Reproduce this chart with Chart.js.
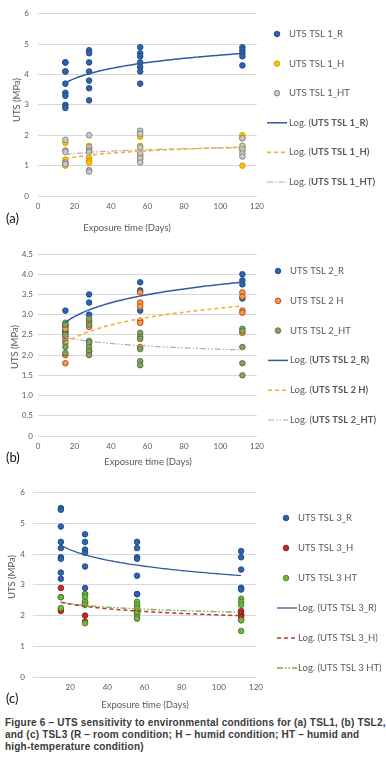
<!DOCTYPE html>
<html><head><meta charset="utf-8">
<script src="https://cdn.jsdelivr.net/npm/chart.js@4.4.0/dist/chart.umd.min.js"></script>
<style>
html,body{margin:0;padding:0;background:#fff}
body{width:386px;height:766px;position:relative;overflow:hidden}
.wrap{position:absolute;left:0;width:386px}
.cap{position:absolute;left:5px;top:717px;width:381px;font:bold 10px "Liberation Sans",Arial,sans-serif;color:#3a3a3a;line-height:12px;letter-spacing:0.2px;white-space:nowrap}
</style></head><body>
<div class="wrap" style="top:0px;height:236px"><canvas id="ca" width="386" height="236"></canvas></div>
<div class="wrap" style="top:240px;height:232px"><canvas id="cb" width="386" height="232"></canvas></div>
<div class="wrap" style="top:480px;height:232px"><canvas id="cc" width="386" height="232"></canvas></div>
<div class="cap">Figure 6 – UTS sensitivity to environmental conditions for (a) TSL1, (b) TSL2,<br>and (c) TSL3 (R – room condition; H – humid condition; HT – humid and<br>high-temperature condition)</div>
<script>
// ---------- DATA ----------
const DAYS = [15, 28, 56, 112];
const X_TICKS = [0, 20, 40, 60, 80, 100, 120];

// Panel (a) TSL1
const A_NAMES = ['UTS TSL 1_R', 'UTS TSL 1_H', 'UTS TSL 1_HT'];
const A_R  = [[4.4,4.4,4.1,4.1,3.7,3.4,3.3,3.0,2.9],[4.8,4.7,4.4,4.1,3.8,3.55,3.15],[4.9,4.7,4.6,4.4,4.25,4.1,3.7],[4.9,4.8,4.7,4.6,4.3]];
const A_H  = [[1.75,1.2,1.1,1.05,1.0],[1.65,1.55,1.25,1.15,1.1],[1.95,1.65,1.35,1.3,1.2],[2.0,1.9,1.6,1.5,1.0]];
const A_HT = [[1.85,1.5,1.45,1.1,1.05],[2.0,1.6,1.5,1.45,0.85,0.8],[2.15,2.05,1.6,1.4,1.25,1.1],[1.9,1.65,1.55,1.4,1.3]];
const A_YTICKS = [0,1,2,3,4,5,6];

// Panel (b) TSL2
const B_NAMES = ['UTS TSL 2_R', 'UTS TSL 2 H', 'UTS TSL 2_HT'];
const B_R  = [[3.1,2.75,2.7,2.6,2.55],[3.5,3.3,3.0],[3.8,3.6,3.1],[4.0,3.85,3.75,3.4]];
const B_H  = [[2.65,2.45,2.35,2.0,1.8],[2.85,2.8,2.7,2.1],[3.55,3.3,3.2,2.85,2.8,2.2],[3.55,3.45,3.1,3.05,2.55]];
const B_HT = [[2.8,2.75,2.5,2.3,2.2,2.05],[2.9,2.75,2.35,2.3,2.2,2.1,2.0],[2.55,2.45,2.4,2.15,1.85,1.75],[2.65,2.6,2.2,1.8,1.5]];
const B_YTICKS = [0,0.5,1,1.5,2,2.5,3,3.5,4,4.5];

// Panel (c) TSL3
const C_NAMES = ['UTS TSL 3_R', 'UTS TSL 3_H', 'UTS TSL 3 HT'];
const C_R  = [[5.5,5.45,4.9,4.4,4.2,3.9,3.85,3.4,3.2],[4.65,4.4,4.15,4.05,3.6,2.9],[4.4,4.2,3.9,3.85,3.3,2.7,2.7],[4.1,3.9,3.5,2.9,2.9,2.85]];
const C_H  = [[2.9,2.6,2.2,2.15],[2.7,2.45,2.4,2.0,1.8],[2.3,2.2,2.1,2.05],[2.15,2.05,2.0,1.95,1.85]];
const C_HT = [[2.6,2.25],[2.7,2.6,2.45,2.35,1.75],[2.45,2.35,2.25,2.1,1.95,1.9],[2.55,2.45,2.35,1.85,1.5]];
const C_YTICKS = [0,1,2,3,4,5,6];

// ---------- HELPERS ----------
const FONT = 'Lato, "Open Sans", sans-serif';
function pts(groups){ const o=[]; groups.forEach((g,i)=>g.forEach(v=>o.push({x:DAYS[i],y:v}))); return o; }
function logFit(groups){
  const p = pts(groups); const n=p.length;
  let sx=0,sy=0,sxx=0,sxy=0;
  p.forEach(q=>{const l=Math.log(q.x); sx+=l; sy+=q.y; sxx+=l*l; sxy+=l*q.y;});
  const b=(n*sxy-sx*sy)/(n*sxx-sx*sx); const a=(sy-b*sx)/n;
  const out=[]; for(let x=DAYS[0]; x<=DAYS[DAYS.length-1]; x+=1) out.push({x, y:a+b*Math.log(x)});
  return out;
}
function scatterDS(groups, fill, stroke, order){
  return {type:'scatter', data:pts(groups), backgroundColor:fill, borderColor:stroke, borderWidth:0.9, pointRadius:2.8, pointHoverRadius:2.8, order};
}
function trendDS(groups, color, dash, width){
  return {type:'scatter', data:logFit(groups), showLine:true, borderColor:color, borderWidth:width, borderDash:dash, pointRadius:0, fill:false, tension:0, order:0};
}

const decoPlugin = {
  id:'deco',
  afterDraw(chart, args, o){
    const ctx = chart.ctx; ctx.save();
    ctx.fillStyle='#595959'; ctx.font='9.5px '+FONT; ctx.textAlign='center'; ctx.textBaseline='middle';
    ctx.save(); ctx.translate(o.yt[0], o.yt[1]); ctx.rotate(-Math.PI/2); ctx.fillText('UTS (MPa)',0,0); ctx.restore();
    ctx.fillText('Exposure time (Days)', o.xt[0], o.xt[1]);
    ctx.fillStyle='#111'; ctx.font='13px '+FONT; ctx.textAlign='left';
    ctx.fillText(o.panel, o.pl[0], o.pl[1]);
    o.items.forEach((it,i)=>{
      const y = o.ly + i*o.ls;
      if(it.kind==='pt'){
        ctx.beginPath(); ctx.arc(o.mx, y, 2.8, 0, Math.PI*2);
        ctx.fillStyle=it.fill; ctx.fill(); ctx.lineWidth=0.9; ctx.strokeStyle=it.stroke; ctx.stroke();
      } else {
        ctx.beginPath(); ctx.setLineDash(it.dash); ctx.lineWidth=it.w; ctx.strokeStyle=it.stroke;
        ctx.moveTo(o.lx0, y); ctx.lineTo(o.lx1, y); ctx.stroke(); ctx.setLineDash([]);
      }
      ctx.textAlign='left'; ctx.textBaseline='middle'; ctx.fillStyle='#595959';
      let x = o.tx;
      it.parts.forEach(p=>{ ctx.font=(p.b&&o.bold?'bold ':'')+'9.5px '+FONT; ctx.fillText(p.t,x,y); x+=ctx.measureText(p.t).width; });
    });
    ctx.restore();
  }
};

function makeChart(id, cfg){
  const [R,H,HT] = cfg.groups;
  const [nR,nH,nHT] = cfg.names;
  const st = cfg.styles;
  const datasets = [
    trendDS(R, st.tR.c, st.tR.d, st.tR.w),
    trendDS(H, st.tH.c, st.tH.d, st.tH.w),
    trendDS(HT, st.tHT.c, st.tHT.d, st.tHT.w),
    scatterDS(HT, st.HT.f, st.HT.s, 2),
    scatterDS(H, st.H.f, st.H.s, 3),
    scatterDS(R, st.R.f, st.R.s, 4)
  ];
  const items = [
    {kind:'pt', fill:st.R.f, stroke:st.R.s, parts:[{t:nR}]},
    {kind:'pt', fill:st.H.f, stroke:st.H.s, parts:[{t:nH}]},
    {kind:'pt', fill:st.HT.f, stroke:st.HT.s, parts:[{t:nHT}]},
    {kind:'ln', stroke:st.tR.c, dash:st.tR.d, w:st.tR.w, parts:[{t:'Log. ('},{t:nR+')',b:true}]},
    {kind:'ln', stroke:st.tH.c, dash:st.tH.d, w:st.tH.w, parts:[{t:'Log. ('},{t:nH+')',b:true}]},
    {kind:'ln', stroke:st.tHT.c, dash:st.tHT.d, w:st.tHT.w, parts:[{t:'Log. ('},{t:nHT+')',b:true}]}
  ];
  const L = cfg.layout;
  return new Chart(document.getElementById(id), {
    data:{datasets},
    plugins:[decoPlugin],
    options:{
      responsive:false, animation:false, devicePixelRatio:1,
      layout:{padding:{left:0, right:L.right, top:L.top, bottom:0}},
      plugins:{legend:{display:false}, tooltip:{enabled:false},
        deco:Object.assign({items}, L.deco)},
      scales:{
        x:{type:'linear', min:0, max:120, afterBuildTicks:s=>{s.ticks=X_TICKS.map(v=>({value:v}));},
           grid:{display:false, drawTicks:false}, border:{display:false},
           ticks:{padding:L.xpad, color:'#595959', font:{size:8, family:FONT}, maxRotation:0, autoSkip:false,
             callback:(v)=> (cfg.hideZero && v===0) ? '' : String(v)},
           afterFit:s=>{s.height=L.xh;}},
        y:{type:'linear', min:0, max:cfg.yticks[cfg.yticks.length-1],
           afterBuildTicks:s=>{s.ticks=cfg.yticks.map(v=>({value:v}));},
           grid:{color:'#D9D9D9', lineWidth:1, drawTicks:false}, border:{display:false},
           ticks:{padding:L.ypad, color:'#595959', font:{size:8, family:FONT}},
           afterFit:s=>{s.width=L.yw;}}
      }
    }
  });
}

const STYLE_A = {
  R:{f:'#2E64AE', s:'#1C4A86'}, H:{f:'#FFC000', s:'#D19A00'}, HT:{f:'#C9C9C9', s:'#7F7F7F'},
  tR:{c:'#2D5C9F', d:[], w:1.5}, tH:{c:'#F2B03A', d:[4,3], w:1.6}, tHT:{c:'#A9A9A9', d:[6,2,1.5,2], w:1.1}
};
const STYLE_B = {
  R:{f:'#2E64AE', s:'#1C4A86'}, H:{f:'#F3A23A', s:'#B83A26'}, HT:{f:'#84A35A', s:'#55703A'},
  tR:{c:'#2D5C9F', d:[], w:1.5}, tH:{c:'#F2B03A', d:[4,3], w:1.6}, tHT:{c:'#A9A9A9', d:[6,2,1.5,2,1.5,2], w:1.1}
};
const STYLE_C = {
  R:{f:'#2E64AE', s:'#1C4A86'}, H:{f:'#C4282E', s:'#8E1C20'}, HT:{f:'#6EB43F', s:'#4B8229'},
  tR:{c:'#2D5C9F', d:[], w:1.3}, tH:{c:'#C0392B', d:[4,3], w:1.5}, tHT:{c:'#74AE4A', d:[6,2,1.5,2,1.5,2], w:1.3}
};

makeChart('ca', {groups:[A_R,A_H,A_HT], names:A_NAMES, yticks:A_YTICKS, styles:STYLE_A,
  layout:{right:129, top:5, xh:40, yw:38, xpad:6, ypad:9,
    deco:{yt:[17,100], xt:[127,228], panel:'(a)', pl:[6,219], ly:34, ls:29.6, mx:277, lx0:267, lx1:287, tx:289, bold:true}}});
makeChart('cb', {groups:[B_R,B_H,B_HT], names:B_NAMES, yticks:B_YTICKS, styles:STYLE_B,
  layout:{right:129, top:14, xh:36, yw:38, xpad:6, ypad:5,
    deco:{yt:[15,107], xt:[148,222], panel:'(b)', pl:[6,218], ly:31, ls:29.8, mx:278, lx0:268, lx1:288, tx:290, bold:true}}});
makeChart('cc', {groups:[C_R,C_H,C_HT], names:C_NAMES, yticks:C_YTICKS, styles:STYLE_C, hideZero:true,
  layout:{right:130, top:11, xh:35, yw:33, xpad:6, ypad:8,
    deco:{yt:[12,97], xt:[145,225], panel:'(c)', pl:[6,219], ly:38, ls:30, mx:286, lx0:277, lx1:297, tx:298, bold:false}}});
</script>
</body></html>
